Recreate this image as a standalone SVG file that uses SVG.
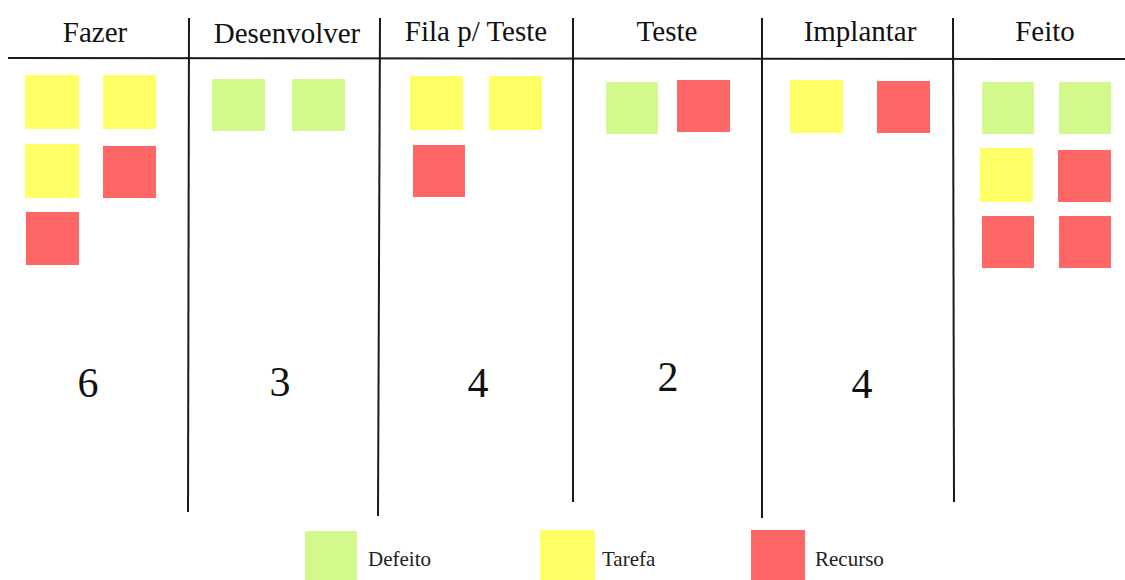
<svg xmlns="http://www.w3.org/2000/svg" width="1125" height="580" viewBox="0 0 1125 580">
<style>
.hd{font-family:"Liberation Serif",serif;font-size:29px;fill:#111;text-anchor:middle}
.num{font-family:"Liberation Serif",serif;font-size:42px;fill:#111;text-anchor:middle}
.lg{font-family:"Liberation Serif",serif;font-size:21px;fill:#222}
.g{fill:#d3f98c}
.y{fill:#ffff66}
.r{fill:#ff6666}
.ln{stroke:#1a1a1a;stroke-width:2;fill:none}
</style>
<rect width="1125" height="580" fill="#fff"/>
<g id="grid">
<line class="ln" x1="8" y1="58" x2="1125" y2="59"/>
<line class="ln" x1="189" y1="18" x2="188" y2="512"/>
<line class="ln" x1="380" y1="18" x2="378" y2="516"/>
<line class="ln" x1="573" y1="18" x2="573" y2="502"/>
<line class="ln" x1="762" y1="18" x2="762" y2="518"/>
<line class="ln" x1="953" y1="18" x2="954" y2="502"/>
</g>
<g id="col-fazer">
<text class="hd" x="95" y="42">Fazer</text>
<rect class="y" x="25" y="75" width="54" height="54"/>
<rect class="y" x="103" y="75" width="53" height="54"/>
<rect class="y" x="25" y="144" width="54" height="54"/>
<rect class="r" x="103" y="146" width="53" height="52"/>
<rect class="r" x="26" y="212" width="53" height="53"/>
<text class="num" x="88" y="397">6</text>
</g>
<g id="col-desenvolver">
<text class="hd" x="287" y="43">Desenvolver</text>
<rect class="g" x="212" y="79" width="53" height="52"/>
<rect class="g" x="292" y="79" width="53" height="52"/>
<text class="num" x="280" y="396">3</text>
</g>
<g id="col-fila">
<text class="hd" x="476" y="41">Fila p/ Teste</text>
<rect class="y" x="410" y="76" width="53" height="54"/>
<rect class="y" x="489" y="76" width="53" height="54"/>
<rect class="r" x="413" y="145" width="52" height="52"/>
<text class="num" x="478" y="397">4</text>
</g>
<g id="col-teste">
<text class="hd" x="667" y="41">Teste</text>
<rect class="g" x="606" y="82" width="52" height="52"/>
<rect class="r" x="677" y="80" width="53" height="52"/>
<text class="num" x="668" y="391">2</text>
</g>
<g id="col-implantar">
<text class="hd" x="860" y="41">Implantar</text>
<rect class="y" x="790" y="80" width="53" height="53"/>
<rect class="r" x="877" y="81" width="53" height="52"/>
<text class="num" x="862" y="398">4</text>
</g>
<g id="col-feito">
<text class="hd" x="1045" y="41">Feito</text>
<rect class="g" x="982" y="82" width="52" height="52"/>
<rect class="g" x="1059" y="82" width="52" height="52"/>
<rect class="y" x="980" y="148" width="53" height="54"/>
<rect class="r" x="1058" y="150" width="53" height="52"/>
<rect class="r" x="982" y="216" width="52" height="52"/>
<rect class="r" x="1059" y="216" width="52" height="52"/>
</g>
<g id="legend">
<rect class="g" x="305" y="531" width="52" height="49"/>
<text class="lg" x="368" y="566">Defeito</text>
<rect class="y" x="540" y="530" width="55" height="50"/>
<text class="lg" x="602" y="566">Tarefa</text>
<rect class="r" x="751" y="530" width="54" height="50"/>
<text class="lg" x="815" y="566">Recurso</text>
</g>
</svg>
